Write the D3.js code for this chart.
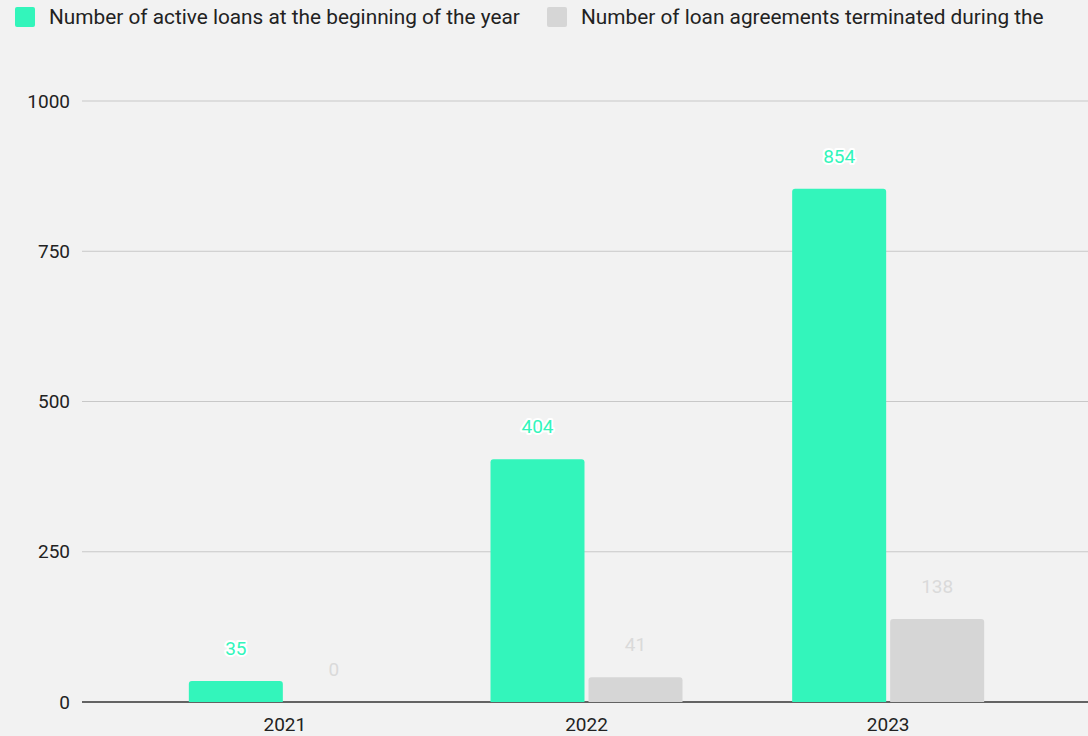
<!DOCTYPE html>
<html>
<head>
<meta charset="utf-8">
<script src="https://cdn.jsdelivr.net/npm/d3@7"></script>
<style>
  body { margin: 0; background: #f2f2f2; }
  svg { display: block; font-family: Roboto, "Noto Sans", sans-serif; }
</style>
</head>
<body>
<svg id="chart" width="1088" height="736"></svg>
<script>
var years = ["2021", "2022", "2023"];
var activeLoans = [35, 404, 854];
var terminated = [0, 41, 138];
var yTicks = [0, 250, 500, 750, 1000];
var seriesNames = ["Number of active loans at the beginning of the year",
                   "Number of loan agreements terminated during the"];

var green = "#33f5bb", grey = "#d6d6d6";

var svg = d3.select("#chart");
svg.append("rect").attr("width", 1088).attr("height", 736).attr("fill", "#f2f2f2");

var plotLeft = 82, plotRight = 1088;
var x = d3.scaleBand().domain(years).range([134, 1039]).paddingInner(0).paddingOuter(0);
var y = d3.scaleLinear().domain([0, 1000]).range([702, 101]);

// gridlines + y labels
var grid = svg.append("g");
grid.selectAll("line").data(yTicks).enter().append("line")
  .attr("x1", plotLeft).attr("x2", plotRight)
  .attr("y1", function(d) { return y(d); }).attr("y2", function(d) { return y(d); })
  .attr("stroke", function(d) { return d === 0 ? "#333" : "#c8c8c8"; })
  .attr("stroke-width", function(d) { return d === 0 ? 1.5 : 1; });
grid.selectAll("text").data(yTicks).enter().append("text")
  .attr("x", 70).attr("y", function(d) { return y(d); })
  .attr("dy", "0.35em").attr("text-anchor", "end")
  .attr("font-size", 19).attr("fill", "#222")
  .text(function(d) { return d; });

// x labels
svg.append("g").selectAll("text").data(years).enter().append("text")
  .attr("x", function(d) { return x(d) + x.bandwidth() / 2; })
  .attr("y", 731).attr("text-anchor", "middle")
  .attr("font-size", 19).attr("fill", "#222")
  .text(function(d) { return d; });

var barW = 94, gap = 4;
function topRounded(x0, y0, w, h, r) {
  r = Math.min(r, h);
  if (h <= 0) return "";
  return "M" + x0 + "," + (y0 + h) + "V" + (y0 + r) + "Q" + x0 + "," + y0 + " " + (x0 + r) + "," + y0 +
    "H" + (x0 + w - r) + "Q" + (x0 + w) + "," + y0 + " " + (x0 + w) + "," + (y0 + r) + "V" + (y0 + h) + "Z";
}

var series = [
  { vals: activeLoans, color: green, off: -barW - gap / 2, labelColor: green, halo: true },
  { vals: terminated, color: grey, off: gap / 2, labelColor: "#dadada", halo: false }
];

series.forEach(function(s) {
  var g = svg.append("g");
  g.selectAll("path").data(years).enter().append("path")
    .attr("d", function(d, i) {
      var cx = x(d) + x.bandwidth() / 2;
      return topRounded(cx + s.off, y(s.vals[i]), barW, y(0) - y(s.vals[i]), 3);
    })
    .attr("fill", s.color);
  var lbl = g.selectAll("text").data(years).enter().append("text")
    .attr("x", function(d) { return x(d) + x.bandwidth() / 2 + s.off + barW / 2; })
    .attr("y", function(d, i) { return y(s.vals[i]) - 26; })
    .attr("text-anchor", "middle").attr("font-size", 19)
    .attr("fill", s.labelColor)
    .text(function(d, i) { return s.vals[i]; });
  if (s.halo) {
    lbl.attr("stroke", "#fff").attr("stroke-width", 4).attr("paint-order", "stroke")
      .attr("stroke-linejoin", "round");
  }
});

// legend
var legend = svg.append("g");
var legX = [15, 547];
seriesNames.forEach(function(name, i) {
  legend.append("rect").attr("x", legX[i]).attr("y", 7).attr("width", 20).attr("height", 20)
    .attr("rx", 2).attr("fill", i === 0 ? green : grey);
  legend.append("text").attr("x", legX[i] + 34).attr("y", 24)
    .attr("font-size", 20.8).attr("fill", "#222").text(name);
});
</script>
</body>
</html>
